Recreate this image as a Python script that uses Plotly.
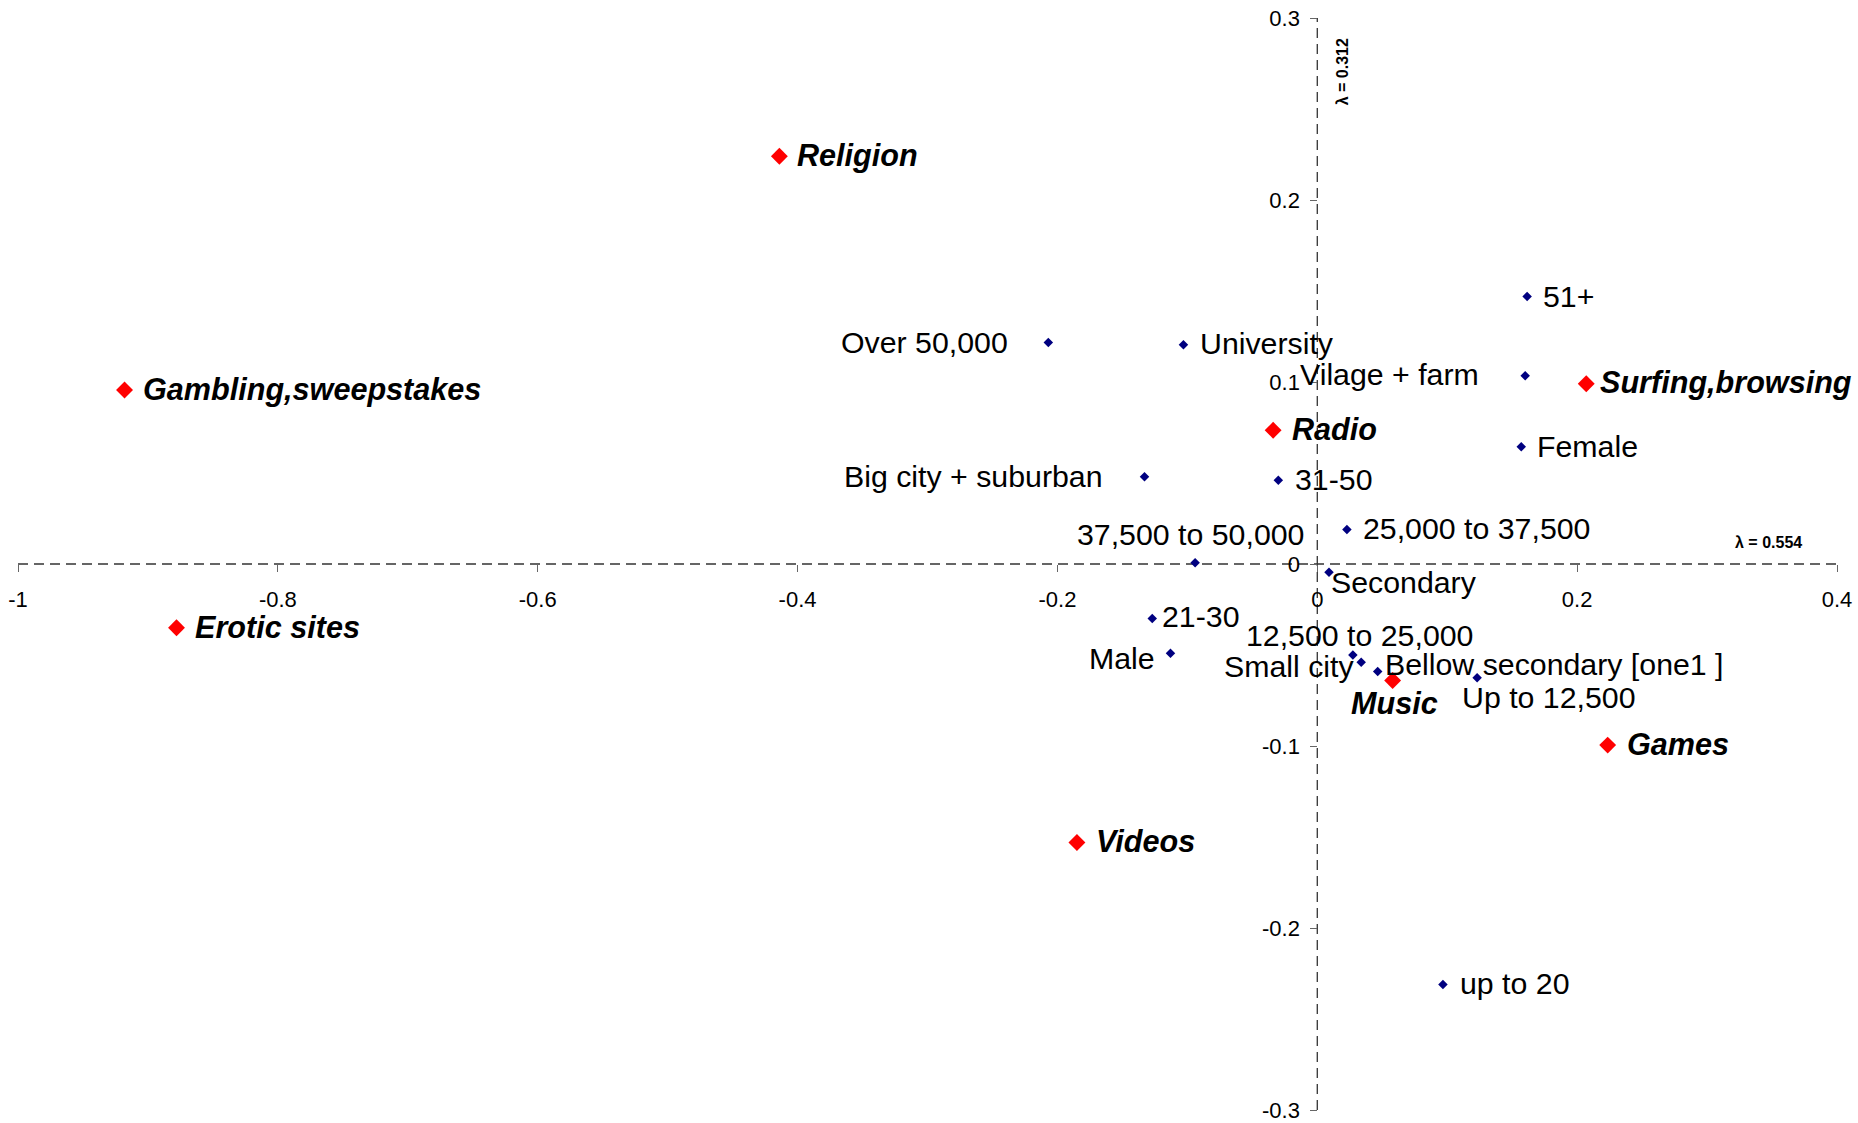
import plotly.graph_objects as go

# Correspondence analysis map: usage categories (red) and respondent profiles (blue)
cat_names = ["Religion", "Gambling,sweepstakes", "Erotic sites", "Radio",
             "Surfing,browsing", "Music", "Games", "Videos"]
cat_x = [-0.414, -0.918, -0.878, -0.034, 0.207, 0.058, 0.2235, -0.185]
cat_y = [0.224, 0.0956, -0.035, 0.0735, 0.099, -0.064, -0.0995, -0.153]

prof_names = ["51+", "Over 50,000", "University", "Vilage + farm", "Female",
              "Big city + suburban", "31-50", "25,000 to 37,500",
              "37,500 to 50,000", "Secondary", "21-30", "Male",
              "12,500 to 25,000", "Small city", "Bellow secondary [one1 ]",
              "Up to 12,500", "up to 20"]
prof_x = [0.1615, -0.207, -0.103, 0.160, 0.157, -0.133, -0.030, 0.0228,
          -0.094, 0.009, -0.127, -0.113, 0.0274, 0.0338, 0.0465, 0.123, 0.0967]
prof_y = [0.147, 0.1217, 0.1204, 0.1034, 0.0644, 0.048, 0.046, 0.0189,
          0.0007, -0.0046, -0.030, -0.049, -0.050, -0.054, -0.059, -0.0625, -0.231]

x_ticks = [-1, -0.8, -0.6, -0.4, -0.2, 0, 0.2, 0.4]
x_tick_text = ["-1", "-0.8", "-0.6", "-0.4", "-0.2", "0", "0.2", "0.4"]
y_ticks = [-0.3, -0.2, -0.1, 0, 0.1, 0.2, 0.3]
y_tick_text = ["-0.3", "-0.2", "-0.1", "0", "0.1", "0.2", "0.3"]

axis_inertia = ["λ = 0.554", "λ = 0.312"]

# label placement: (anchor, x offset px, y offset px)
cat_label_pos = [("left", 16, 1), ("left", 16, 1), ("left", 16, 1), ("left", 17, 1),
                 ("left", 12, 1), ("center", 2, -23), ("left", 17, 1), ("left", 17, 1)]
prof_label_pos = [("left", 14, 0), ("right", -38, 0), ("left", 15, 1),
                  ("right", -44, 1), ("left", 14, 0), ("right", -39, 0),
                  ("left", 15, 1), ("left", 14, 1), ("center", -5, 28),
                  ("left", 0, -10), ("left", 8, 2), ("right", -13, -5),
                  ("center", 7, 20), ("right", -5, -4), ("left", 5, 7),
                  ("left", -17, -20), ("left", 15, 1)]

FONT = "Arial, Liberation Sans, sans-serif"
CAT_SIZE = 30.6
PROF_SIZE = 30.3

fig = go.Figure()

# dashed axes crossing at the origin
axis_dash = dict(color="#333333", width=1.3, dash="10px,6px")
fig.add_shape(type="line", x0=-1, x1=0.4, y0=0, y1=0, xref="x", yref="y",
              line=axis_dash, layer="below")
fig.add_shape(type="line", x0=0, x1=0, y0=-0.3, y1=0.3, xref="x", yref="y",
              line=axis_dash, layer="below")

fig.add_trace(go.Scatter(
    x=prof_x, y=prof_y, mode="markers", name="Profiles",
    marker=dict(symbol="diamond", size=7.3, color="#000080"),
    hovertext=prof_names, hoverinfo="text"))
fig.add_trace(go.Scatter(
    x=cat_x, y=cat_y, mode="markers", name="Categories",
    marker=dict(symbol="diamond", size=13, color="#FF0000"),
    hovertext=cat_names, hoverinfo="text"))

annotations = []
for name, x, y, (anc, dx, dy) in zip(cat_names, cat_x, cat_y, cat_label_pos):
    annotations.append(dict(
        x=x, y=y, xref="x", yref="y", text=f"<b><i>{name}</i></b>",
        showarrow=False, xanchor=anc, yanchor="middle", xshift=dx, yshift=dy,
        font=dict(family=FONT, size=CAT_SIZE, color="black")))
for name, x, y, (anc, dx, dy) in zip(prof_names, prof_x, prof_y, prof_label_pos):
    annotations.append(dict(
        x=x, y=y, xref="x", yref="y", text=name,
        showarrow=False, xanchor=anc, yanchor="middle", xshift=dx, yshift=dy,
        font=dict(family=FONT, size=PROF_SIZE, color="black")))

# inertia of each dimension, written next to its axis
annotations.append(dict(
    x=0.3476, y=0.0117, xref="x", yref="y", text=f"<b>{axis_inertia[0]}</b>",
    showarrow=False, font=dict(family=FONT, size=16, color="black")))
annotations.append(dict(
    x=0.019, y=0.2707, xref="x", yref="y", text=f"<b>{axis_inertia[1]}</b>",
    showarrow=False, textangle=-90, font=dict(family=FONT, size=16, color="black")))

fig.update_layout(
    width=1858, height=1123,
    margin=dict(l=18, r=21, t=18, b=13),
    paper_bgcolor="white", plot_bgcolor="white",
    showlegend=False,
    annotations=annotations,
    font=dict(family=FONT, size=22, color="black"),
    xaxis=dict(range=[-1, 0.4], anchor="free", position=0.5, automargin=False,
               showgrid=False, zeroline=False, showline=False,
               ticks="outside", ticklen=7, tickwidth=1.2, tickcolor="#666666",
               tickvals=x_ticks, ticktext=x_tick_text,
               ticklabelstandoff=9,
               tickfont=dict(family=FONT, size=22, color="black")),
    yaxis=dict(range=[-0.3, 0.3], anchor="free", position=1 / 1.4, automargin=False,
               showgrid=False, zeroline=False, showline=False,
               ticks="outside", ticklen=7, tickwidth=1.2, tickcolor="#666666",
               tickvals=y_ticks, ticktext=y_tick_text,
               ticklabelstandoff=6,
               tickfont=dict(family=FONT, size=22, color="black")),
)

fig.write_html("out.html")
